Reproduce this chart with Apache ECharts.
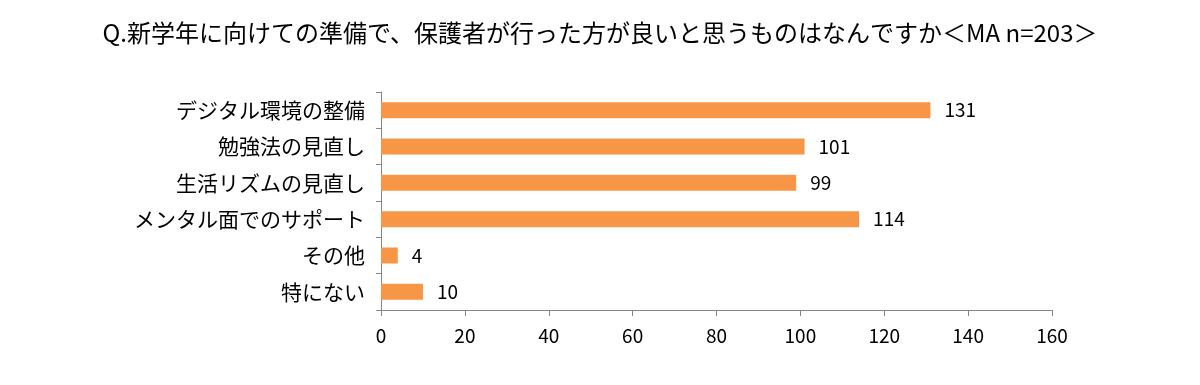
<!DOCTYPE html>
<html><head><meta charset="utf-8">
<script src="https://cdn.jsdelivr.net/npm/echarts@6/dist/echarts.min.js"></script>
<style>html,body{margin:0;padding:0;background:#fff}#c{width:1200px;height:385px}</style>
</head><body><div id="c"></div>
<script>
const titleText = 'Q.新学年に向けての準備で、保護者が行った方が良いと思うものはなんですか＜MA n=203＞';
const categories = ['デジタル環境の整備','勉強法の見直し','生活リズムの見直し','メンタル面でのサポート','その他','特にない'];
const values = [131, 101, 99, 114, 4, 10];
const xMin = 0, xMax = 160, xStep = 20;
const font = '"Noto Sans CJK JP", "Noto Sans", sans-serif';
const chart = echarts.init(document.getElementById('c'), null, {renderer:'canvas'});
chart.setOption({
  animation:false,
  backgroundColor:'#fff',
  title:{text:titleText,left:'center',top:16,textStyle:{fontFamily:font,fontSize:24,fontWeight:'normal',color:'#000'}},
  grid:{left:381,right:148,top:92,bottom:75,containLabel:false},
  xAxis:{type:'value',min:xMin,max:xMax,interval:xStep,
    axisLine:{show:true,lineStyle:{color:'#868686',width:1}},
    axisTick:{show:true,length:6,lineStyle:{color:'#868686'}},
    splitLine:{show:false},
    axisLabel:{fontFamily:font,fontSize:19,color:'#000',margin:16}},
  yAxis:{type:'category',data:categories,inverse:true,
    axisLine:{show:true,lineStyle:{color:'#868686',width:1}},
    axisTick:{show:true,length:5,inside:false,lineStyle:{color:'#868686'}},
    axisLabel:{fontFamily:font,fontSize:21,color:'#000',margin:16}},
  series:[{type:'bar',data:values,barWidth:16,
    itemStyle:{color:'#F79646'},
    label:{show:true,position:'right',distance:14,fontFamily:font,fontSize:19,color:'#000'}}]
});
</script></body></html>
